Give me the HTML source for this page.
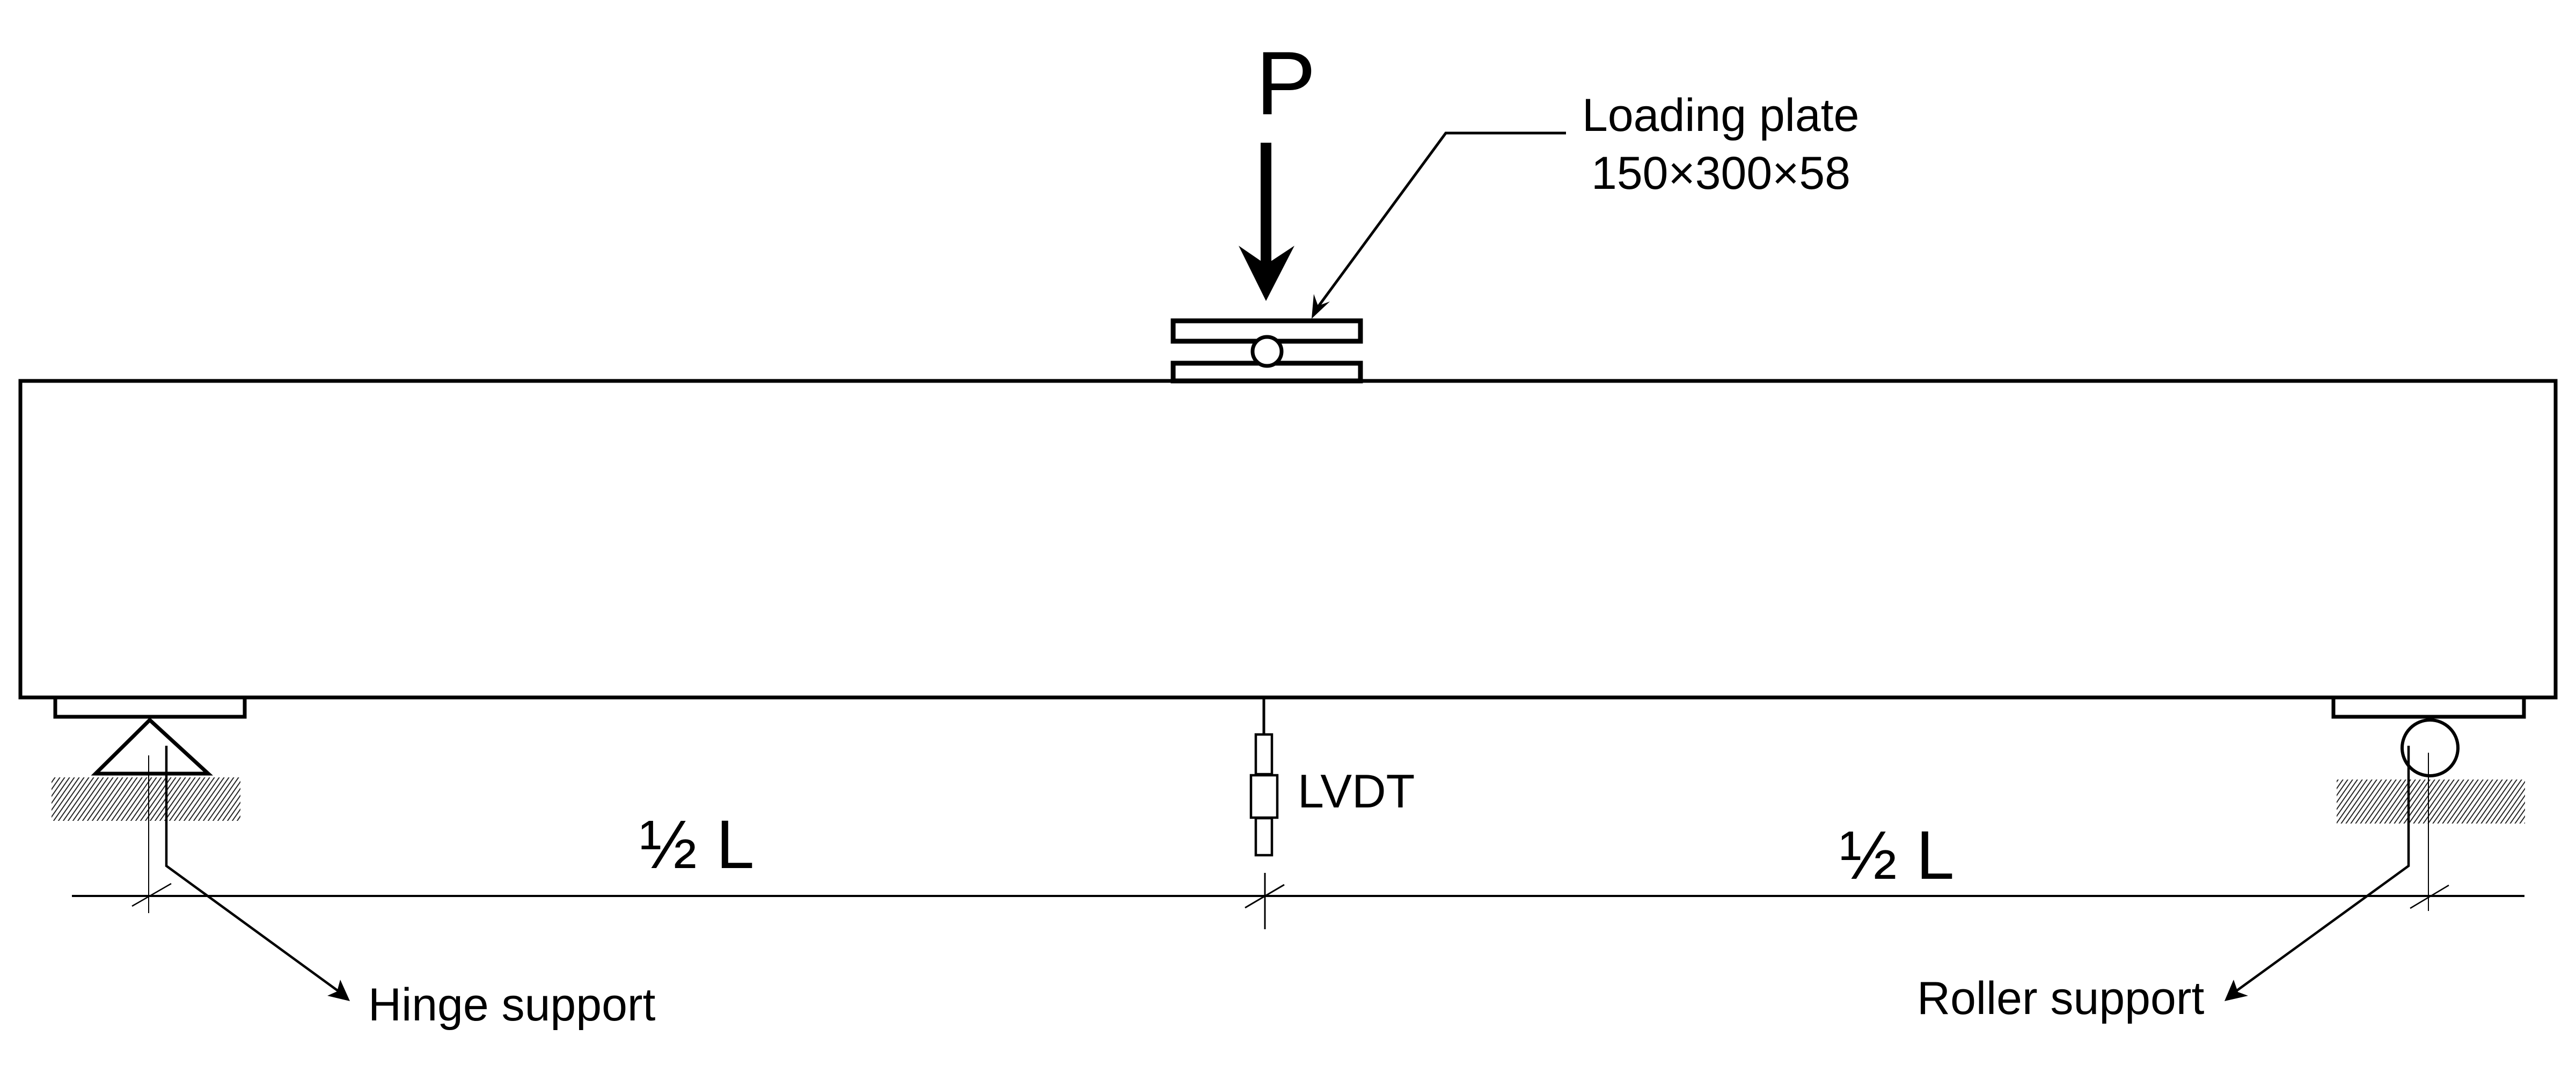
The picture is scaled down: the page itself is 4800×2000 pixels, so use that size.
<!DOCTYPE html>
<html><head><meta charset="utf-8"><style>html,body{margin:0;padding:0;background:#fff}svg{display:block}</style></head>
<body>
<svg width="4800" height="2000" viewBox="0 0 4800 2000" xmlns="http://www.w3.org/2000/svg" font-family="Liberation Sans, Arial, sans-serif">
<defs>
<pattern id="h" width="9" height="12" patternUnits="userSpaceOnUse" patternTransform="skewX(-35)">
<rect x="0" y="0" width="2.4" height="12" fill="#222"/>
</pattern>
</defs>
<rect width="4800" height="2000" fill="#fff"/>
<!-- beam -->
<rect x="38" y="710" width="4724" height="590" fill="none" stroke="#000" stroke-width="7"/>
<!-- loading plates -->
<rect x="2186" y="598" width="349" height="38" fill="#fff" stroke="#000" stroke-width="9"/>
<rect x="2186" y="677" width="349" height="33" fill="#fff" stroke="#000" stroke-width="9"/>
<circle cx="2361" cy="655" r="27" fill="#fff" stroke="#000" stroke-width="7"/>
<!-- P arrow -->
<text x="2340" y="213" font-size="168">P</text>
<rect x="2349" y="266" width="20" height="230" fill="#000"/>
<polygon points="2308,458 2359,561 2412,458 2359,493" fill="#000"/>
<!-- loading plate leader -->
<polyline points="2918,248 2694,248 2450,580" fill="none" stroke="#000" stroke-width="5"/>
<polygon points="2444,594 2448,548 2456,570 2478,562" fill="#000"/>
<text x="2948" y="244" font-size="86">Loading plate</text>
<text x="2965" y="352" font-size="86">150×300×58</text>
<!-- supports -->
<rect x="103" y="1300" width="353" height="36" fill="#fff" stroke="#000" stroke-width="7"/>
<polygon points="279,1342 178,1442 388,1442" fill="#fff" stroke="#000" stroke-width="7"/>
<rect x="96" y="1449" width="352" height="81" fill="url(#h)"/>
<rect x="4348" y="1300" width="355" height="36" fill="#fff" stroke="#000" stroke-width="7"/>
<circle cx="4528" cy="1394" r="52" fill="#fff" stroke="#000" stroke-width="6"/>
<rect x="4354" y="1453" width="351" height="82" fill="url(#h)"/>
<!-- center lines -->
<line x1="277" y1="1408" x2="277" y2="1702" stroke="#000" stroke-width="2"/>
<line x1="4525" y1="1403" x2="4525" y2="1698" stroke="#000" stroke-width="2"/>
<line x1="2357" y1="1627" x2="2357" y2="1732" stroke="#000" stroke-width="3"/>
<!-- dimension line -->
<line x1="134" y1="1670" x2="4704" y2="1670" stroke="#000" stroke-width="4"/>
<line x1="246" y1="1689" x2="319" y2="1647" stroke="#000" stroke-width="2.5"/>
<line x1="4491" y1="1693" x2="4563" y2="1650" stroke="#000" stroke-width="2.5"/>
<line x1="2320" y1="1692" x2="2393" y2="1649" stroke="#000" stroke-width="3"/>
<!-- LVDT -->
<line x1="2355" y1="1301" x2="2355" y2="1367" stroke="#000" stroke-width="5"/>
<rect x="2340" y="1369" width="30" height="74" fill="#fff" stroke="#000" stroke-width="4.5"/>
<rect x="2340" y="1525" width="30" height="69" fill="#fff" stroke="#000" stroke-width="4.5"/>
<rect x="2331" y="1445" width="49" height="79" fill="#fff" stroke="#000" stroke-width="4.5"/>
<text x="2418" y="1505" font-size="88">LVDT</text>
<!-- leaders -->
<polyline points="310,1390 310,1614 645,1858" fill="none" stroke="#000" stroke-width="4.5"/>
<polygon points="652,1866 610,1856 628,1848 634,1826" fill="#000"/>
<polyline points="4488,1390 4488,1614 4152,1858" fill="none" stroke="#000" stroke-width="4.5"/>
<polygon points="4145,1866 4189,1856 4170,1849 4162,1826" fill="#000"/>
<text x="686" y="1902" font-size="86">Hinge support</text>
<text x="3572" y="1890" font-size="86">Roller support</text>
<!-- half L -->
<text x="1192" y="1618" font-size="128">½ L</text>
<text x="3428" y="1638" font-size="128">½ L</text>
</svg>
</body></html>
